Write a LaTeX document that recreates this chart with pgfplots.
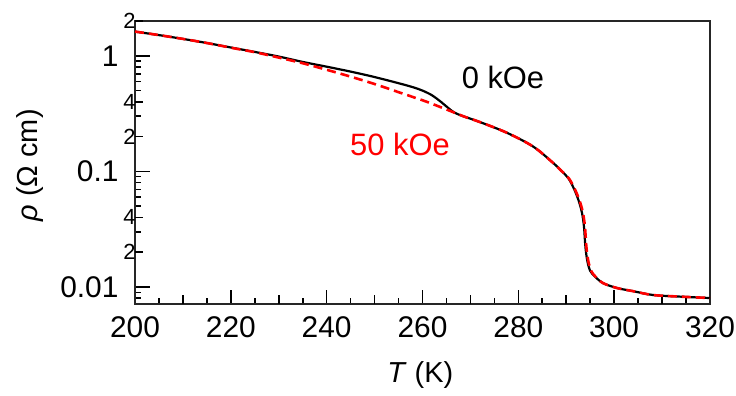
\documentclass[border=0pt]{standalone}
\usepackage{fontspec}
\setmainfont{Liberation Sans}
\usepackage{pgfplots}
\pgfplotsset{compat=1.18}
\begin{document}
\begin{tikzpicture}
\useasboundingbox (-135bp,-92bp) rectangle (601bp,304bp);
\begin{axis}[
 scale only axis, width=575bp, height=283bp,
 xmin=200, xmax=320, ymode=log, ymin=0.00713, ymax=2,
 xtick={200,220,...,320}, minor x tick num=3,
 extra x ticks={210,230,250,270,290,310}, extra x tick labels={},
 extra x tick style={major tick length=9.5bp},
 ytick={0.01,0.1,1}, yticklabels={0.01,0.1,1},
 minor ytick={0.008,0.009,0.02,0.03,0.04,0.05,0.06,0.07,0.08,0.09,0.2,0.3,0.4,0.5,0.6,0.7,0.8,0.9},
 extra y ticks={0.02,0.04,0.2,0.4,2}, extra y tick labels={2,4,2,4,2},
 extra y tick style={major tick length=8bp, yticklabel style={font=\fontsize{22}{22}\selectfont, xshift=17bp}},
 tick pos=left, tick align=inside,
 major tick length=14.5bp, minor tick length=6bp,
 major tick style={black, line width=1.6bp},
 minor tick style={black, line width=1.6bp},
 axis line style={line width=1.8bp, black!85},
 xticklabel style={font=\fontsize{30}{30}\selectfont, yshift=-9bp},
 yticklabel style={font=\fontsize{30}{30}\selectfont, xshift=-13bp},
 /pgf/number format/assume math mode=true,
 xlabel={\textit{T} (K)},
 ylabel={\textit{ρ} (Ω cm)},
 label style={font=\fontsize{29}{29}\selectfont},
 xlabel style={at={(axis description cs:0.496,-0.251)}, anchor=center},
 ylabel style={at={(axis description cs:-0.183,0.49)}, anchor=center},
]
\addplot[black, line width=2.2bp, smooth, tension=0.55] coordinates {
(200,1.62) (205,1.51) (210,1.40) (215,1.29) (220,1.18) (225,1.08) (230,0.985)
(235,0.885) (240,0.805) (245,0.730) (250,0.655) (255.3,0.575) (258,0.535)
(260,0.50) (262,0.455) (264,0.395) (265.5,0.35) (266.7,0.322) (268.5,0.300)
(272,0.267) (277.6,0.216) (283.1,0.164) (287.2,0.119) (289,0.101) (290.5,0.0865)
(291.8,0.068) (292.7,0.054) (293.3,0.0435) (293.7,0.0333) (294.0,0.0223)
(294.4,0.0168) (295.0,0.0138) (296.0,0.0123) (297.7,0.0108) (300.6,0.0098)
(304,0.0092) (308.1,0.00853) (314,0.00825) (320,0.00803)
};
\addplot[red, line width=2.6bp, dash pattern=on 9bp off 5bp, smooth, tension=0.55] coordinates {
(200,1.62) (205,1.51) (210,1.40) (215,1.29) (220,1.175) (225,1.075) (230,0.965)
(235,0.862) (240,0.757) (244.9,0.662) (250,0.57) (255.3,0.48) (258,0.44)
(260.9,0.40) (263.6,0.362) (266.7,0.322) (268.5,0.300)
(272,0.267) (277.6,0.216) (283.1,0.164) (287.2,0.119) (289,0.101) (290.6,0.0865)
(291.95,0.068) (292.9,0.054) (293.5,0.0435) (293.9,0.0333) (294.2,0.0223)
(294.6,0.0168) (295.2,0.0138) (296.1,0.0123) (297.7,0.0108) (300.6,0.0098)
(304,0.0092) (308.1,0.00853) (314,0.00825) (320,0.00803)
};
\node[font=\fontsize{31}{31}\selectfont, black] at (axis cs:276.8,0.645) {0 kOe};
\node[font=\fontsize{31}{31}\selectfont, red] at (axis cs:255.3,0.170) {50 kOe};
\end{axis}
\end{tikzpicture}
\end{document}
